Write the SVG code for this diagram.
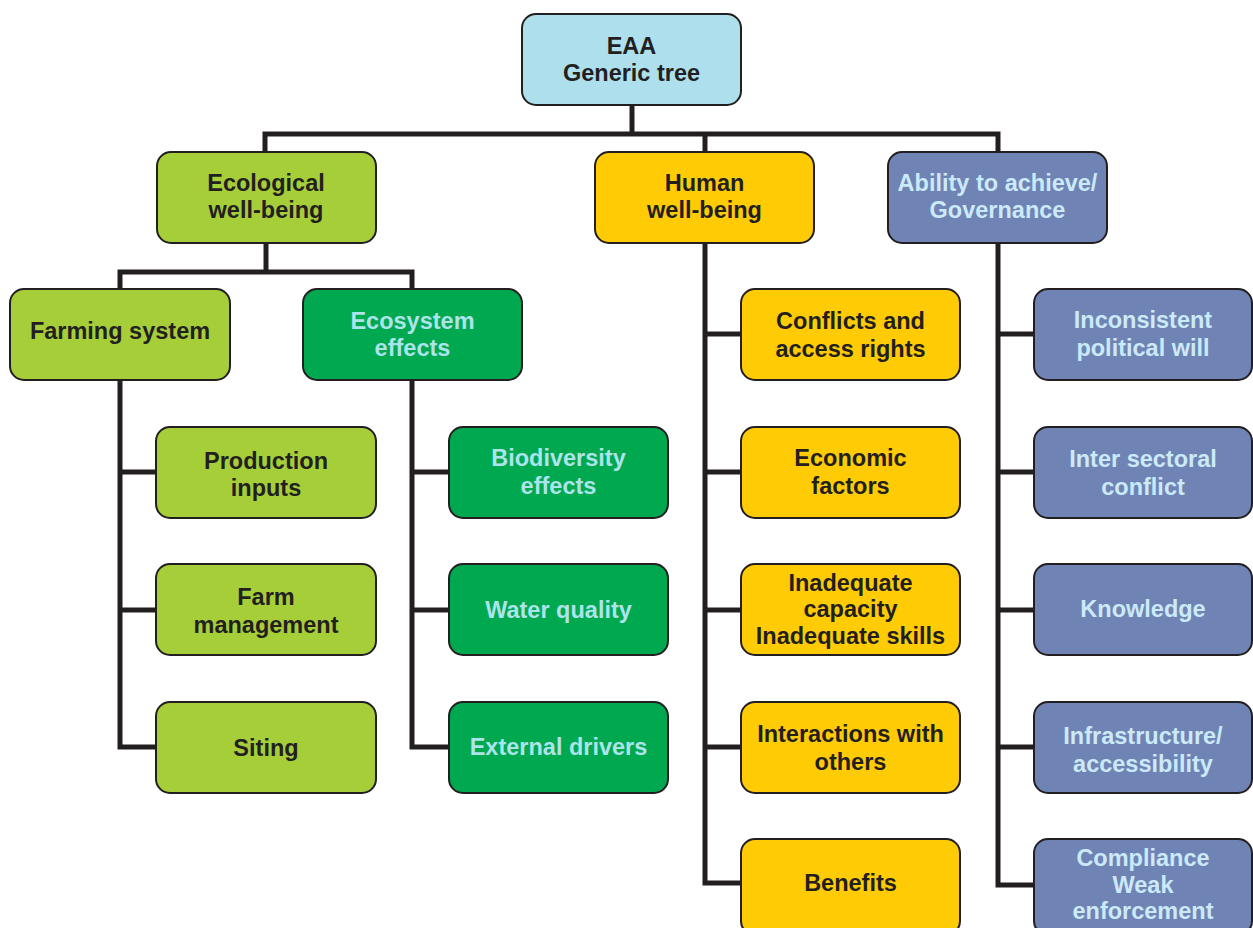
<svg xmlns="http://www.w3.org/2000/svg" width="1253" height="928" viewBox="0 0 1253 928">
<style>
.box{stroke:#231f20;stroke-width:2}
.root{fill:#ade0ec}
.eco{fill:#a6ce39}
.ecs{fill:#00a84f}
.hum{fill:#ffcb05}
.gov{fill:#7083b5}
text{font-family:"Liberation Sans",Arial,sans-serif;font-weight:bold;font-size:23.5px;text-anchor:middle}
.dk{fill:#231f20}
.lc{fill:#ade3ea}
.lb{fill:#cbeaf8}
.con{fill:none;stroke:#231f20;stroke-width:5;stroke-linejoin:miter;stroke-linecap:butt}
</style>
<g id="connectors" class="con">
<path d="M632 105 V134"/>
<path d="M265 153 V134 H998 V152"/>
<path d="M705 134 V152"/>
<path d="M266 243 V272"/>
<path d="M120 290 V272 H412 V290"/>
<path d="M120 380 V747 H157"/>
<path d="M120 472 H157 M120 610 H157"/>
<path d="M412 380 V747 H450"/>
<path d="M412 472 H450 M412 610 H450"/>
<path d="M705 243 V883 H742"/>
<path d="M705 334 H742 M705 472 H742 M705 610 H742 M705 747 H742"/>
<path d="M998 243 V885 H1035"/>
<path d="M998 334 H1035 M998 472 H1035 M998 610 H1035 M998 747 H1035"/>
</g>
<g id="root"><rect class="box root" x="522" y="14" width="219" height="91" rx="14"/><text class="dk" x="631.5" y="54">EAA</text><text class="dk" x="631.5" y="81">Generic tree</text></g>
<g id="ecological"><rect class="box eco" x="157" y="152" width="219" height="91" rx="14"/><text class="dk" x="266" y="191">Ecological</text><text class="dk" x="266" y="218">well-being</text></g>
<g id="human"><rect class="box hum" x="595" y="152" width="219" height="91" rx="14"/><text class="dk" x="704.5" y="191">Human</text><text class="dk" x="704.5" y="218">well-being</text></g>
<g id="governance"><rect class="box gov" x="888" y="152" width="219" height="91" rx="14"/><text class="lb" x="997.5" y="191">Ability to achieve/</text><text class="lb" x="997.5" y="218">Governance</text></g>
<g id="farming"><rect class="box eco" x="10" y="289" width="220" height="91" rx="14"/><text class="dk" x="120" y="339">Farming system</text></g>
<g id="ecosystem"><rect class="box ecs" x="303" y="289" width="219" height="91" rx="14"/><text class="lc" x="412.5" y="329">Ecosystem</text><text class="lc" x="412.5" y="356">effects</text></g>
<g id="production"><rect class="box eco" x="156" y="427" width="220" height="91" rx="14"/><text class="dk" x="266" y="469">Production</text><text class="dk" x="266" y="496">inputs</text></g>
<g id="farm-management"><rect class="box eco" x="156" y="564" width="220" height="91" rx="14"/><text class="dk" x="266" y="605">Farm</text><text class="dk" x="266" y="633">management</text></g>
<g id="siting"><rect class="box eco" x="156" y="702" width="220" height="91" rx="14"/><text class="dk" x="266" y="756">Siting</text></g>
<g id="biodiversity"><rect class="box ecs" x="449" y="427" width="219" height="91" rx="14"/><text class="lc" x="558.5" y="466">Biodiversity</text><text class="lc" x="558.5" y="494">effects</text></g>
<g id="water"><rect class="box ecs" x="449" y="564" width="219" height="91" rx="14"/><text class="lc" x="558.5" y="618">Water quality</text></g>
<g id="external"><rect class="box ecs" x="449" y="702" width="219" height="91" rx="14"/><text class="lc" x="558.5" y="755">External drivers</text></g>
<g id="conflicts"><rect class="box hum" x="741" y="289" width="219" height="91" rx="14"/><text class="dk" x="850.5" y="329">Conflicts and</text><text class="dk" x="850.5" y="357">access rights</text></g>
<g id="economic"><rect class="box hum" x="741" y="427" width="219" height="91" rx="14"/><text class="dk" x="850.5" y="466">Economic</text><text class="dk" x="850.5" y="494">factors</text></g>
<g id="inadequate"><rect class="box hum" x="741" y="564" width="219" height="91" rx="14"/><text class="dk" x="850.5" y="591">Inadequate</text><text class="dk" x="850.5" y="617">capacity</text><text class="dk" x="850.5" y="644">Inadequate skills</text></g>
<g id="interactions"><rect class="box hum" x="741" y="702" width="219" height="91" rx="14"/><text class="dk" x="850.5" y="742">Interactions with</text><text class="dk" x="850.5" y="770">others</text></g>
<g id="benefits"><rect class="box hum" x="741" y="839" width="219" height="96" rx="14"/><text class="dk" x="850.5" y="891">Benefits</text></g>
<g id="inconsistent"><rect class="box gov" x="1034" y="289" width="218" height="91" rx="14"/><text class="lb" x="1143" y="328">Inconsistent</text><text class="lb" x="1143" y="356">political will</text></g>
<g id="intersectoral"><rect class="box gov" x="1034" y="427" width="218" height="91" rx="14"/><text class="lb" x="1143" y="467">Inter sectoral</text><text class="lb" x="1143" y="495">conflict</text></g>
<g id="knowledge"><rect class="box gov" x="1034" y="564" width="218" height="91" rx="14"/><text class="lb" x="1143" y="617">Knowledge</text></g>
<g id="infrastructure"><rect class="box gov" x="1034" y="702" width="218" height="91" rx="14"/><text class="lb" x="1143" y="744">Infrastructure/</text><text class="lb" x="1143" y="772">accessibility</text></g>
<g id="compliance"><rect class="box gov" x="1034" y="839" width="218" height="96" rx="14"/><text class="lb" x="1143" y="866">Compliance</text><text class="lb" x="1143" y="893">Weak</text><text class="lb" x="1143" y="919">enforcement</text></g>
</svg>
